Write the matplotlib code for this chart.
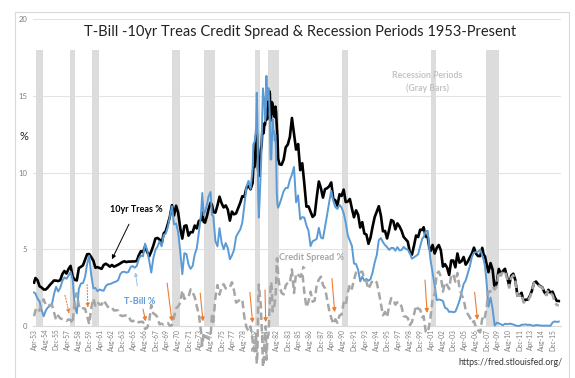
import matplotlib
matplotlib.use("Agg")
import matplotlib.pyplot as plt
from matplotlib.patches import Rectangle

plt.rcParams['font.family'] = ['Lato', 'DejaVu Sans']

# monthly sample points (roughly quarterly, denser in 1979-82)
months = [
    "1953-04", "1953-06", "1953-09", "1953-12", "1954-03", "1954-06", "1954-09", "1954-12",
    "1955-03", "1955-06", "1955-09", "1955-12", "1956-03", "1956-06", "1956-09", "1956-12",
    "1957-03", "1957-06", "1957-09", "1957-12", "1958-03", "1958-06", "1958-09", "1958-12",
    "1959-03", "1959-06", "1959-09", "1959-12", "1960-03", "1960-06", "1960-09", "1960-12",
    "1961-03", "1961-06", "1961-09", "1961-12", "1962-03", "1962-06", "1962-09", "1962-12",
    "1963-03", "1963-06", "1963-09", "1963-12", "1964-03", "1964-06", "1964-09", "1964-12",
    "1965-03", "1965-06", "1965-09", "1965-12", "1966-03", "1966-06", "1966-09", "1966-12",
    "1967-03", "1967-06", "1967-09", "1967-12", "1968-03", "1968-06", "1968-09", "1968-12",
    "1969-03", "1969-06", "1969-09", "1969-12", "1970-03", "1970-06", "1970-09", "1970-12",
    "1971-03", "1971-06", "1971-09", "1971-12", "1972-03", "1972-06", "1972-09", "1972-12",
    "1973-03", "1973-06", "1973-08", "1973-10", "1973-12", "1974-03", "1974-05", "1974-08",
    "1974-10", "1974-12", "1975-03", "1975-06", "1975-09", "1975-12", "1976-03", "1976-06",
    "1976-09", "1976-12", "1977-03", "1977-06", "1977-09", "1977-12", "1978-03", "1978-06",
    "1978-09", "1978-12", "1979-03", "1979-06", "1979-09", "1979-10", "1979-12", "1980-02",
    "1980-03", "1980-04", "1980-05", "1980-06", "1980-07", "1980-09", "1980-10", "1980-11",
    "1980-12", "1981-01", "1981-02", "1981-03", "1981-04", "1981-05", "1981-06", "1981-07",
    "1981-08", "1981-09", "1981-10", "1981-11", "1981-12", "1982-01", "1982-02", "1982-03",
    "1982-04", "1982-05", "1982-06", "1982-07", "1982-08", "1982-09", "1982-10", "1982-12",
    "1983-03", "1983-06", "1983-09", "1983-12", "1984-03", "1984-06", "1984-09", "1984-12",
    "1985-03", "1985-06", "1985-09", "1985-12", "1986-03", "1986-06", "1986-09", "1986-12",
    "1987-03", "1987-06", "1987-09", "1987-12", "1988-03", "1988-06", "1988-09", "1988-12",
    "1989-03", "1989-06", "1989-09", "1989-12", "1990-03", "1990-06", "1990-09", "1990-12",
    "1991-03", "1991-06", "1991-09", "1991-12", "1992-03", "1992-06", "1992-09", "1992-12",
    "1993-03", "1993-06", "1993-09", "1993-12", "1994-03", "1994-06", "1994-09", "1994-12",
    "1995-03", "1995-06", "1995-09", "1995-12", "1996-03", "1996-06", "1996-09", "1996-12",
    "1997-03", "1997-06", "1997-09", "1997-12", "1998-03", "1998-06", "1998-09", "1998-12",
    "1999-03", "1999-06", "1999-09", "1999-12", "2000-03", "2000-05", "2000-08", "2000-11",
    "2001-01", "2001-03", "2001-06", "2001-09", "2001-12", "2002-03", "2002-06", "2002-09",
    "2002-12", "2003-03", "2003-06", "2003-09", "2003-12", "2004-03", "2004-06", "2004-09",
    "2004-12", "2005-03", "2005-06", "2005-09", "2005-12", "2006-03", "2006-06", "2006-09",
    "2006-12", "2007-03", "2007-06", "2007-08", "2007-10", "2007-12", "2008-03", "2008-06",
    "2008-09", "2008-12", "2009-03", "2009-06", "2009-09", "2009-12", "2010-03", "2010-06",
    "2010-09", "2010-12", "2011-03", "2011-06", "2011-09", "2011-12", "2012-03", "2012-06",
    "2012-09", "2012-12", "2013-03", "2013-06", "2013-09", "2013-12", "2014-03", "2014-06",
    "2014-09", "2014-12", "2015-03", "2015-06", "2015-09", "2015-12", "2016-03", "2016-06",
    "2016-09",
]

tenyr = [
    2.83, 3.13, 2.99, 2.59, 2.51, 2.38, 2.38, 2.51,
    2.68, 2.82, 2.97, 2.96, 2.93, 2.99, 3.38, 3.59,
    3.42, 3.72, 3.92, 3.21, 3.02, 2.97, 3.78, 3.86,
    3.96, 4.33, 4.68, 4.69, 4.49, 4.26, 3.80, 3.84,
    3.78, 3.73, 3.98, 4.06, 3.98, 3.87, 3.98, 3.87,
    3.93, 4.00, 4.08, 4.17, 4.22, 4.17, 4.20, 4.20,
    4.21, 4.21, 4.25, 4.62, 4.88, 4.81, 5.18, 4.84,
    4.55, 4.86, 5.24, 5.70, 5.74, 5.64, 5.35, 6.03,
    6.19, 6.64, 7.14, 7.88, 7.21, 7.84, 7.39, 6.39,
    5.70, 6.52, 6.56, 5.89, 6.12, 6.11, 6.55, 6.36,
    6.85, 6.90, 7.40, 6.79, 6.74, 7.21, 7.60, 8.04,
    7.90, 7.43, 7.39, 7.86, 8.43, 8.00, 7.73, 7.86,
    7.59, 6.87, 7.46, 7.28, 7.34, 7.69, 8.03, 8.46,
    8.42, 9.01, 9.12, 8.91, 9.33, 10.30, 10.39, 12.41,
    12.75, 11.47, 10.18, 9.78, 10.25, 11.51, 11.75, 12.68,
    12.84, 12.57, 13.19, 13.12, 13.68, 14.10, 13.47, 14.28,
    14.94, 15.32, 15.15, 13.39, 13.72, 14.59, 14.43, 13.86,
    13.87, 13.62, 14.30, 13.95, 13.06, 12.34, 10.91, 10.54,
    10.51, 10.85, 11.65, 11.83, 12.32, 13.56, 12.52, 11.50,
    11.86, 10.16, 10.61, 9.26, 7.78, 7.80, 7.45, 7.11,
    7.25, 8.40, 9.42, 8.99, 8.37, 8.92, 8.98, 9.11,
    9.36, 8.28, 8.19, 7.84, 8.59, 8.48, 8.89, 8.08,
    8.11, 8.28, 7.65, 7.09, 7.54, 7.26, 6.42, 6.77,
    6.03, 5.96, 5.36, 5.77, 6.48, 7.10, 7.46, 7.81,
    7.20, 6.17, 6.20, 5.71, 6.27, 6.91, 6.83, 6.30,
    6.69, 6.49, 6.21, 5.81, 5.65, 5.50, 4.81, 4.65,
    5.23, 5.90, 5.80, 6.28, 6.26, 6.44, 5.83, 5.78,
    5.16, 4.89, 5.28, 4.73, 5.09, 5.28, 4.93, 3.87,
    4.03, 3.81, 3.33, 4.27, 4.27, 3.83, 4.73, 4.13,
    4.23, 4.50, 4.00, 4.20, 4.47, 4.72, 5.11, 4.72,
    4.56, 4.56, 5.10, 4.67, 4.53, 4.10, 3.51, 4.10,
    3.69, 2.42, 2.82, 3.72, 3.40, 3.59, 3.73, 3.20,
    2.65, 3.29, 3.41, 3.00, 1.98, 1.98, 2.17, 1.62,
    1.72, 1.72, 1.96, 2.30, 2.81, 2.90, 2.72, 2.60,
    2.53, 2.21, 2.04, 2.36, 2.17, 2.24, 1.89, 1.64,
    1.63,
]

tbill = [
    2.19, 2.11, 1.79, 1.60, 1.03, 0.64, 1.01, 1.21,
    1.30, 1.43, 2.09, 2.56, 2.25, 2.49, 2.93, 3.17,
    3.08, 3.29, 3.53, 3.04, 1.30, 0.83, 2.44, 2.77,
    2.80, 3.20, 4.04, 4.57, 3.31, 2.46, 2.48, 2.27,
    2.38, 2.33, 2.30, 2.60, 2.72, 2.73, 2.79, 2.86,
    2.90, 2.99, 3.38, 3.52, 3.54, 3.48, 3.53, 3.84,
    3.91, 3.80, 3.92, 4.38, 4.60, 4.54, 5.37, 4.96,
    4.26, 3.48, 4.42, 4.96, 5.17, 5.52, 5.20, 5.94,
    6.02, 6.44, 7.13, 7.81, 6.63, 6.68, 6.12, 4.87,
    3.38, 4.75, 4.69, 4.01, 3.73, 3.91, 4.66, 5.07,
    6.09, 7.19, 8.67, 7.22, 7.45, 7.96, 8.43, 8.74,
    7.24, 7.15, 5.54, 5.19, 6.38, 5.44, 5.00, 5.41,
    5.08, 4.35, 4.60, 4.96, 5.81, 6.07, 6.29, 6.73,
    7.85, 9.08, 9.46, 8.94, 10.26, 11.84, 12.04, 12.86,
    15.20, 13.20, 8.58, 7.07, 8.06, 10.27, 11.62, 13.73,
    15.49, 15.02, 14.79, 13.36, 13.69, 16.30, 14.73, 14.95,
    15.51, 14.70, 13.54, 10.86, 10.85, 12.28, 13.48, 12.68,
    12.70, 12.09, 12.47, 11.35, 8.68, 7.92, 7.71, 7.94,
    8.35, 8.79, 9.00, 9.00, 9.52, 9.87, 10.37, 8.06,
    8.52, 6.95, 7.10, 7.07, 6.56, 6.21, 5.21, 5.53,
    5.59, 5.69, 6.40, 5.77, 5.70, 6.46, 7.24, 8.07,
    8.82, 8.15, 7.75, 7.63, 7.90, 7.73, 7.36, 6.74,
    5.91, 5.57, 5.22, 4.07, 4.04, 3.66, 2.91, 3.22,
    2.95, 3.07, 2.95, 3.06, 3.50, 4.14, 4.62, 5.60,
    5.73, 5.47, 5.28, 5.14, 4.96, 5.09, 5.09, 4.91,
    5.14, 4.93, 4.95, 5.16, 5.03, 4.98, 4.74, 4.39,
    4.48, 4.57, 4.68, 5.20, 5.69, 5.79, 6.18, 6.20,
    5.15, 4.30, 3.49, 2.64, 1.69, 1.73, 1.70, 1.63,
    1.19, 1.13, 0.92, 0.94, 0.90, 0.94, 1.27, 1.65,
    2.19, 2.74, 2.97, 3.42, 3.89, 4.51, 4.79, 4.81,
    4.85, 4.97, 4.61, 4.32, 3.90, 3.00, 1.26, 1.86,
    1.13, 0.03, 0.21, 0.18, 0.12, 0.05, 0.15, 0.12,
    0.15, 0.14, 0.10, 0.04, 0.01, 0.01, 0.08, 0.09,
    0.11, 0.07, 0.09, 0.04, 0.02, 0.07, 0.05, 0.04,
    0.02, 0.03, 0.03, 0.02, 0.02, 0.23, 0.30, 0.27,
    0.29,
]

spread = [
    0.64, 1.02, 1.20, 0.99, 1.48, 1.74, 1.37, 1.30,
    1.38, 1.39, 0.88, 0.40, 0.68, 0.50, 0.45, 0.42,
    0.34, 0.43, 0.39, 0.17, 1.72, 2.14, 1.34, 1.09,
    1.16, 1.13, 0.64, 0.12, 1.18, 1.80, 1.32, 1.57,
    1.40, 1.40, 1.68, 1.46, 1.26, 1.14, 1.19, 1.01,
    1.03, 1.01, 0.70, 0.65, 0.68, 0.69, 0.67, 0.36,
    0.30, 0.41, 0.33, 0.24, 0.28, 0.27, -0.19, -0.12,
    0.29, 1.38, 0.82, 0.74, 0.57, 0.12, 0.15, 0.09,
    0.17, 0.20, 0.01, 0.07, 0.58, 1.16, 1.27, 1.52,
    2.32, 1.77, 1.87, 1.88, 2.39, 2.20, 1.89, 1.29,
    0.76, -0.29, -1.27, -0.43, -0.71, -0.75, -0.83, -0.70,
    0.66, 0.28, 1.85, 2.67, 2.05, 2.56, 2.73, 2.45,
    2.51, 2.52, 2.86, 2.32, 1.53, 1.62, 1.74, 1.73,
    0.57, -0.07, -0.34, -0.03, -0.93, -1.54, -1.65, -0.45,
    -2.45, -1.73, 1.60, 2.71, 2.19, 1.24, 0.13, -1.05,
    -2.65, -2.45, -1.60, -0.24, -0.01, -2.20, -1.26, -0.67,
    -0.57, 0.62, 1.61, 2.53, 2.87, 2.31, 0.95, 1.18,
    1.17, 1.53, 1.83, 2.60, 4.38, 4.42, 3.20, 2.60,
    2.16, 2.06, 2.65, 2.83, 2.80, 3.69, 2.15, 3.44,
    3.34, 3.21, 3.51, 2.19, 1.22, 1.59, 2.24, 1.58,
    1.66, 2.71, 3.02, 3.22, 2.67, 2.46, 1.74, 1.04,
    0.54, 0.13, 0.44, 0.21, 0.69, 0.75, 1.53, 1.34,
    2.20, 2.71, 2.43, 3.02, 3.50, 3.60, 3.51, 3.55,
    3.08, 2.89, 2.41, 2.71, 2.98, 2.96, 2.84, 2.21,
    1.47, 0.70, 0.92, 0.57, 1.31, 1.82, 1.74, 1.39,
    1.55, 1.56, 1.26, 0.65, 0.62, 0.52, 0.07, 0.26,
    0.75, 1.33, 1.12, 1.08, 0.57, 0.65, -0.35, -0.42,
    0.01, 0.59, 1.79, 2.09, 3.40, 3.55, 3.23, 2.24,
    2.84, 2.68, 2.41, 3.33, 3.37, 2.89, 3.46, 2.48,
    2.04, 1.76, 1.03, 0.78, 0.58, 0.21, 0.32, -0.09,
    -0.29, -0.41, 0.49, 0.35, 0.63, 1.10, 2.25, 2.24,
    2.56, 2.39, 2.61, 3.54, 3.28, 3.54, 3.58, 3.08,
    2.50, 3.15, 3.31, 2.96, 1.97, 1.97, 2.09, 1.53,
    1.61, 1.65, 1.87, 2.26, 2.79, 2.83, 2.67, 2.56,
    2.51, 2.18, 2.01, 2.34, 2.15, 2.01, 1.59, 1.37,
    1.34,
]

recession_start = ["1953-07", "1957-08", "1960-04", "1969-12", "1973-11",
                   "1980-01", "1981-07", "1990-07", "2001-03", "2007-12"]
recession_end = ["1954-05", "1958-04", "1961-02", "1970-11", "1975-03",
                 "1980-07", "1982-11", "1991-03", "2001-11", "2009-06"]

tick_labels = [
    "Apr-53", "Aug-54", "Dec-55", "Apr-57", "Aug-58", "Dec-59", "Apr-61", "Aug-62",
    "Dec-63", "Apr-65", "Aug-66", "Dec-67", "Apr-69", "Aug-70", "Dec-71", "Apr-73",
    "Aug-74", "Dec-75", "Apr-77", "Aug-78", "Dec-79", "Apr-81", "Aug-82", "Dec-83",
    "Apr-85", "Aug-86", "Dec-87", "Apr-89", "Aug-90", "Dec-91", "Apr-93", "Aug-94",
    "Dec-95", "Apr-97", "Aug-98", "Dec-99", "Apr-01", "Aug-02", "Dec-03", "Apr-05",
    "Aug-06", "Dec-07", "Apr-09", "Aug-10", "Dec-11", "Apr-13", "Aug-14", "Dec-15",
]

MON = {"Jan": 1, "Feb": 2, "Mar": 3, "Apr": 4, "May": 5, "Jun": 6,
       "Jul": 7, "Aug": 8, "Sep": 9, "Oct": 10, "Nov": 11, "Dec": 12}


def month_index(s):
    # months counted from Apr 1953 (first category on the axis)
    y, m = s.split("-")
    return (int(y) - 1953) * 12 + int(m) - 4


def label_index(lbl):
    mon, yy = lbl.split("-")
    yy = int(yy)
    year = 1900 + yy if yy > 50 else 2000 + yy
    return (year - 1953) * 12 + MON[mon] - 4


x = [month_index(s) for s in months]

fig = plt.figure(figsize=(5.75, 3.78), dpi=100)
ax = fig.add_axes([0.0574, 0.0035, 0.918, 0.958])

# outer chart border
fig.patches.append(Rectangle((0.026, -0.05), 0.9636, 1.018, transform=fig.transFigure,
                             fill=False, edgecolor="#d9d9d9", lw=0.8))

# spine position first, it resets the ticks
for sp in ["left", "right", "top"]:
    ax.spines[sp].set_visible(False)
ax.spines["bottom"].set_position(("data", 0))
ax.spines["bottom"].set_color("#d9d9d9")
ax.spines["bottom"].set_zorder(2)

# recession bars
for s, e in zip(recession_start, recession_end):
    a, b = month_index(s), month_index(e)
    ax.bar((a + b) / 2, 18, width=b - a, bottom=0, color="#dcdcdc", zorder=1, lw=0)

ax.plot(x, tenyr, color="black", lw=1.9, zorder=3)
ax.plot(x, tbill, color="#5b9bd5", lw=1.4, zorder=4)
ax.plot(x, spread, color="#a6a6a6", lw=1.8, dashes=(3, 1.6), zorder=5)

ax.set_xlim(-1.5, 764)
ax.set_ylim(-3.3, 20.3)
ax.set_yticks([0, 5, 10, 15, 20])
ax.set_yticklabels(["0", "5", "10", "15", "20"], fontsize=5.5, color="#7f7f7f")
ax.yaxis.grid(True, color="#e3e3e3", lw=0.8, zorder=0)
ax.tick_params(axis="y", length=0, pad=4)
ax.set_xticks([label_index(t) for t in tick_labels])
ax.set_xticklabels(tick_labels, rotation=90, fontsize=4.8, color="#7f7f7f")
ax.tick_params(axis="x", length=0, pad=2)
ax.set_facecolor("none")
ax.set_axisbelow(True)

fig.text(0.522, 0.915, "T-Bill -10yr Treas Credit Spread & Recession Periods 1953-Present",
         ha="center", va="center", fontsize=10.5, color="#222222")
fig.text(0.042, 0.64, "%", ha="center", va="center", fontsize=8, color="#222222")

ax.text(570, 15.9, "Recession Periods\n(Gray Bars)", ha="center", va="center",
        fontsize=6.3, color="#c4c4c4", fontweight="bold", linespacing=1.5)

ax.annotate("10yr Treas %", xy=(113, 4.35), xytext=(148, 7.6), ha="center", va="center",
            fontsize=6.5, fontweight="bold", color="black",
            arrowprops=dict(arrowstyle="-|>", color="black", lw=0.7, mutation_scale=6,
                            shrinkA=6, shrinkB=0))
ax.annotate("T-Bill %", xy=(147, 3.5), xytext=(153, 1.6), ha="center", va="center",
            fontsize=6.5, fontweight="bold", color="#5b9bd5",
            arrowprops=dict(arrowstyle="-|>", color="#9dc3e6", lw=0.7, mutation_scale=5,
                            shrinkA=6, shrinkB=0))
ax.annotate("Credit Spread %", xy=(388, 3.65), xytext=(402, 4.45), ha="center", va="center",
            fontsize=6.5, fontweight="bold", color="#a6a6a6",
            arrowprops=dict(arrowstyle="-|>", color="#a6a6a6", lw=0.7, mutation_scale=5,
                            shrinkA=3, shrinkB=0))

# orange arrows pointing at the spread lows
orange_arrows = [
    ((45, 2.0), (51, 0.8), ":"), ((77, 2.7), (78, 1.2), ":"),
    ((158, 1.1), (162, 0.3), "-"), ((193, 2.8), (200, 0.3), "-"),
    ((241, 2.15), (245, 0.3), "-"), ((313, 2.2), (317, 0.2), "-"),
    ((335, 2.35), (336, 0.25), "-"), ((432, 3.1), (436, 0.9), "-"),
    ((567, 3.0), (570, 0.85), "-"), ((639, 2.2), (643, 0.4), "-"),
]
for start, end, ls in orange_arrows:
    ax.annotate("", xy=end, xytext=start,
                arrowprops=dict(arrowstyle="-|>", color="#ed7d31", lw=0.8, ls=ls,
                                mutation_scale=6, shrinkA=0, shrinkB=0), zorder=6)

fig.text(0.979, 0.04, "https://fred.stlouisfed.org/", ha="right", va="center",
         fontsize=6.3, color="#333333")

fig.savefig("out.png", dpi=100)
